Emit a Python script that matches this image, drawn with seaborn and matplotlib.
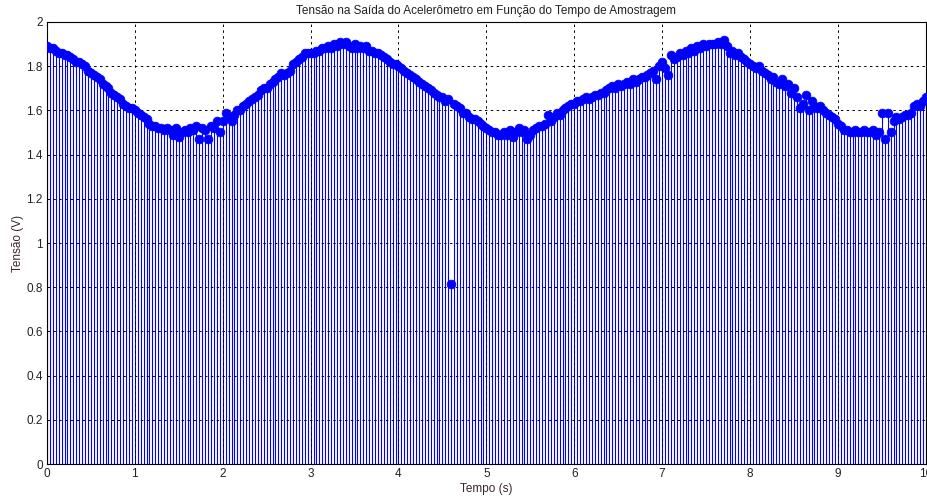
import matplotlib
matplotlib.use("Agg")
import matplotlib.pyplot as plt
import seaborn as sns
import numpy as np
import pandas as pd

# amostras a cada 1/30 s (s)
sample_rate = 30
tensao = [
    # 0 s
    1.89, 1.88, 1.88, 1.87, 1.86, 1.86, 1.85, 1.85, 1.84, 1.83,
    1.82, 1.82, 1.81, 1.80, 1.78, 1.77, 1.76, 1.75, 1.74, 1.72,
    1.71, 1.70, 1.68, 1.67, 1.66, 1.65, 1.63, 1.62, 1.61, 1.61,
    # 1 s
    1.60, 1.59, 1.58, 1.57, 1.56, 1.54, 1.53, 1.53, 1.52, 1.52,
    1.51, 1.52, 1.51, 1.49, 1.52, 1.48, 1.50, 1.51, 1.50, 1.52,
    1.51, 1.53, 1.47, 1.52, 1.51, 1.47, 1.53, 1.52, 1.55, 1.50,
    # 2 s
    1.55, 1.59, 1.57, 1.55, 1.58, 1.60, 1.60, 1.62, 1.63, 1.64,
    1.65, 1.66, 1.67, 1.69, 1.70, 1.70, 1.72, 1.73, 1.74, 1.75,
    1.77, 1.76, 1.77, 1.78, 1.81, 1.82, 1.83, 1.84, 1.86, 1.86,
    # 3 s
    1.86, 1.86, 1.87, 1.87, 1.88, 1.88, 1.89, 1.88, 1.90, 1.89,
    1.91, 1.90, 1.91, 1.89, 1.88, 1.90, 1.88, 1.89, 1.88, 1.89,
    1.87, 1.87, 1.86, 1.86, 1.85, 1.84, 1.83, 1.82, 1.81, 1.81,
    # 4 s
    1.80, 1.79, 1.78, 1.77, 1.76, 1.75, 1.74, 1.73, 1.72, 1.71,
    1.70, 1.69, 1.68, 1.67, 1.66, 1.66, 1.64, 1.65, 0.815, 1.63,
    1.62, 1.61, 1.59, 1.59, 1.57, 1.56, 1.56, 1.55, 1.54, 1.53,
    # 5 s
    1.52, 1.51, 1.50, 1.50, 1.49, 1.49, 1.50, 1.49, 1.51, 1.48,
    1.50, 1.52, 1.50, 1.51, 1.47, 1.49, 1.51, 1.52, 1.53, 1.53,
    1.54, 1.58, 1.55, 1.57, 1.59, 1.58, 1.60, 1.61, 1.62, 1.63,
    # 6 s
    1.63, 1.64, 1.64, 1.65, 1.66, 1.65, 1.66, 1.67, 1.67, 1.68,
    1.68, 1.69, 1.70, 1.71, 1.70, 1.72, 1.71, 1.72, 1.73, 1.72,
    1.74, 1.73, 1.74, 1.75, 1.75, 1.76, 1.77, 1.78, 1.74, 1.80,
    # 7 s
    1.82, 1.79, 1.76, 1.85, 1.83, 1.84, 1.86, 1.85, 1.87, 1.86,
    1.88, 1.87, 1.89, 1.88, 1.90, 1.89, 1.90, 1.90, 1.90, 1.91,
    1.90, 1.92, 1.89, 1.86, 1.87, 1.85, 1.86, 1.84, 1.83, 1.82,
    # 8 s
    1.81, 1.80, 1.79, 1.80, 1.78, 1.77, 1.76, 1.74, 1.75, 1.73,
    1.72, 1.74, 1.71, 1.72, 1.68, 1.70, 1.66, 1.61, 1.63, 1.67,
    1.60, 1.64, 1.62, 1.61, 1.62, 1.60, 1.59, 1.58, 1.57, 1.56,
    # 9 s
    1.54, 1.53, 1.51, 1.51, 1.50, 1.50, 1.51, 1.50, 1.50, 1.51,
    1.50, 1.50, 1.51, 1.49, 1.50, 1.59, 1.47, 1.59, 1.50, 1.55,
    1.57, 1.56, 1.57, 1.58, 1.58, 1.59, 1.62, 1.63, 1.62, 1.64,
    # 10 s
    1.66,
]

x_ticks = [0, 1, 2, 3, 4, 5, 6, 7, 8, 9, 10]
y_ticks = [0, 0.2, 0.4, 0.6, 0.8, 1, 1.2, 1.4, 1.6, 1.8, 2]
y_tick_labels = ["0", "0.2", "0.4", "0.6", "0.8", "1", "1.2", "1.4", "1.6", "1.8", "2"]

df = pd.DataFrame({"tempo": np.arange(len(tensao)) / sample_rate, "tensao": tensao})

sns.set_style("white")
plt.rcParams["font.family"] = ["Liberation Sans", "DejaVu Sans"]

fig = plt.figure(figsize=(9.28, 4.97), dpi=100)
ax = fig.add_axes([0.0506, 0.066, 0.947, 0.890])

# hastes (stem) + marcadores
ax.vlines(df["tempo"], 0, df["tensao"], color="#0000ff", linewidth=0.8, zorder=2)
sns.scatterplot(data=df, x="tempo", y="tensao", ax=ax, color="#0000ff",
                s=40, edgecolor="#0000ff", linewidth=0.5, zorder=3, legend=False)

ax.set_xlim(0, 10)
ax.set_ylim(0, 2)
ax.set_xticks(x_ticks)
ax.set_yticks(y_ticks)
ax.set_yticklabels(y_tick_labels)
ax.grid(True, color="black", linestyle=(0, (2.5, 3.5)), linewidth=0.7, zorder=1)
ax.set_axisbelow(False)
ax.tick_params(direction="in", length=4, width=0.7, labelsize=8.5, colors="#222222", pad=3)

for side in ["left", "right", "top", "bottom"]:
    ax.spines[side].set_color("black")
    ax.spines[side].set_linewidth(0.8)

ax.set_title("Tensão na Saída do Acelerômetro em Função do Tempo de Amostragem",
             fontsize=8.5, color="#222222", pad=6)
ax.set_xlabel("Tempo (s)", fontsize=8.5, color="#3a2630", labelpad=2)
ax.set_ylabel("Tensão (V)", fontsize=8.5, color="#3a2630", labelpad=2)

fig.savefig("out.png", dpi=100)
